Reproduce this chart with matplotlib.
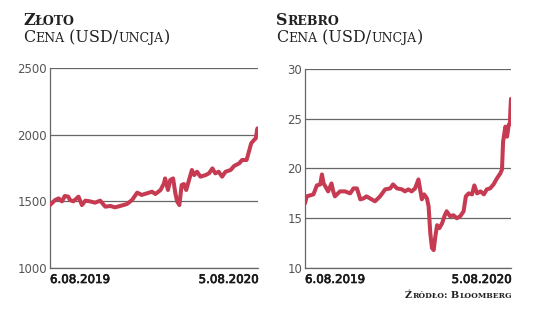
import matplotlib.pyplot as plt
import matplotlib.patheffects as pe
from matplotlib.offsetbox import TextArea, HPacker, AnchoredOffsetbox

# dni od 6.08.2019 oraz ceny
zloto_dni = [0, 9, 15, 21, 26, 32, 35, 41, 50, 56, 62, 70, 79, 88, 97, 106, 114, 123,
             135, 144, 153, 161, 170, 179, 185, 194, 200, 202, 207, 211, 216, 220, 223,
             227, 231, 235, 239, 244, 249, 253, 258, 264, 273, 279, 285, 290, 296, 302,
             308, 317, 323, 332, 337, 345, 349, 353, 358, 361, 364, 365]
zloto_cena = [1472, 1510, 1522, 1500, 1540, 1535, 1510, 1500, 1535, 1472, 1505, 1500,
              1490, 1505, 1460, 1465, 1455, 1465, 1480, 1510, 1565, 1548, 1560, 1572,
              1555, 1585, 1635, 1672, 1585, 1660, 1672, 1560, 1500, 1472, 1622, 1630,
              1585, 1660, 1735, 1697, 1722, 1685, 1697, 1710, 1747, 1710, 1722, 1685,
              1722, 1735, 1765, 1785, 1810, 1810, 1872, 1935, 1960, 1972, 2047, 2035]

srebro_dni = [0, 3, 9, 15, 21, 27, 30, 33, 38, 41, 47, 50, 53, 62, 71, 80, 86, 92, 98,
              104, 109, 115, 124, 133, 142, 151, 156, 163, 172, 177, 183, 189, 195, 201,
              207, 211, 216, 219, 222, 225, 228, 231, 234, 238, 243, 247, 251, 257, 263,
              269, 275, 281, 285, 290, 296, 300, 305, 311, 317, 322, 328, 334, 340, 346,
              349, 351, 355, 358, 361, 363, 364, 365]
srebro_cena = [16.5, 17.2, 17.3, 17.4, 18.3, 18.4, 19.4, 18.5, 18.0, 17.7, 18.5, 17.7,
               17.2, 17.7, 17.7, 17.5, 18.0, 18.0, 16.9, 17.0, 17.2, 17.0, 16.7, 17.2,
               17.9, 18.0, 18.4, 18.0, 17.9, 17.7, 17.9, 17.7, 18.0, 18.9, 16.9, 17.4,
               17.0, 16.2, 13.5, 12.0, 11.8, 13.2, 14.3, 14.0, 14.5, 15.2, 15.7, 15.2,
               15.3, 15.0, 15.2, 15.7, 17.2, 17.5, 17.4, 18.3, 17.5, 17.7, 17.4, 17.9,
               18.0, 18.4, 19.0, 19.5, 19.9, 22.7, 24.2, 23.2, 24.4, 24.5, 25.9, 27.0]

daty = ['6.08.2019', '5.08.2020']
kolor = '#c63a52'
szary = '#555555'
serif = ['DejaVu Serif']
wasko = ['Liberation Sans Narrow', 'DejaVu Sans']


def kapitaliki(fig, tekst, x, y, duze, male, waga='normal', loc='lower left'):
    # male litery jako kapitaliki
    czesci = []
    bufor = ''
    mala = None
    for ch in tekst:
        m = ch.islower()
        if mala is not None and m != mala:
            czesci.append((bufor, mala))
            bufor = ''
        bufor += ch
        mala = m
    czesci.append((bufor, mala))
    dzieci = [TextArea(t.upper(), textprops=dict(fontsize=male if m else duze,
                                                 family=serif, weight=waga,
                                                 color='#222222'))
              for t, m in czesci]
    box = HPacker(children=dzieci, align='baseline', pad=0, sep=0)
    ab = AnchoredOffsetbox(loc=loc, child=box, pad=0, borderpad=0, frameon=False,
                           bbox_to_anchor=(x, y), bbox_transform=fig.transFigure)
    fig.add_artist(ab)


fig = plt.figure(figsize=(5.36, 3.29), dpi=100)

panele = [
    ([50, 68, 258, 268], zloto_dni, zloto_cena, (1000, 2500), [1000, 1500, 2000, 2500],
     'Złoto', 23),
    ([305, 69, 511, 268], srebro_dni, srebro_cena, (10, 30), [10, 15, 20, 25, 30],
     'Srebro', 276),
]

for (x0, y0, x1, y1), dni, cena, zakres, ticki, tytul, tx in panele:
    ax = fig.add_axes([x0 / 536, 1 - y1 / 329, (x1 - x0) / 536, (y1 - y0) / 329])
    ax.plot(dni, cena, color=kolor, lw=2.9, solid_joinstyle='round',
            solid_capstyle='round', zorder=3)
    ax.set_xlim(0, 365)
    ax.set_ylim(*zakres)
    ax.set_yticks(ticki)
    ax.set_yticklabels([str(t) for t in ticki], family=wasko, fontsize=8.5, color=szary)
    ax.set_xticks([])
    ax.grid(axis='y', color='#666666', lw=0.9)
    for s in ['top', 'right']:
        ax.spines[s].set_visible(False)
    ax.spines['left'].set_color('#666666')
    ax.spines['bottom'].set_color('#666666')
    ax.spines['left'].set_linewidth(0.9)
    ax.spines['bottom'].set_linewidth(0.9)
    ax.tick_params(axis='y', length=0, pad=2)
    obrys = [pe.withStroke(linewidth=0.5, foreground='#1a1a1a')]
    ax.text(0, -0.025, daty[0], transform=ax.transAxes, ha='left', va='top',
            family=wasko, fontsize=8.5, color='#1a1a1a', path_effects=obrys)
    ax.text(1, -0.025, daty[1], transform=ax.transAxes, ha='right', va='top',
            family=wasko, fontsize=8.5, color='#1a1a1a', path_effects=obrys)
    kapitaliki(fig, tytul, tx / 536, 1 - 29 / 329, 11.5, 9, waga='bold')
    kapitaliki(fig, 'Cena (USD/uncja)', tx / 536, 1 - 46 / 329, 11.5, 9)

kapitaliki(fig, 'Źródło: Bloomberg', 512 / 536, 1 - 300 / 329, 7, 5.5, waga='bold',
           loc='lower right')

fig.savefig('out.png', dpi=100)
